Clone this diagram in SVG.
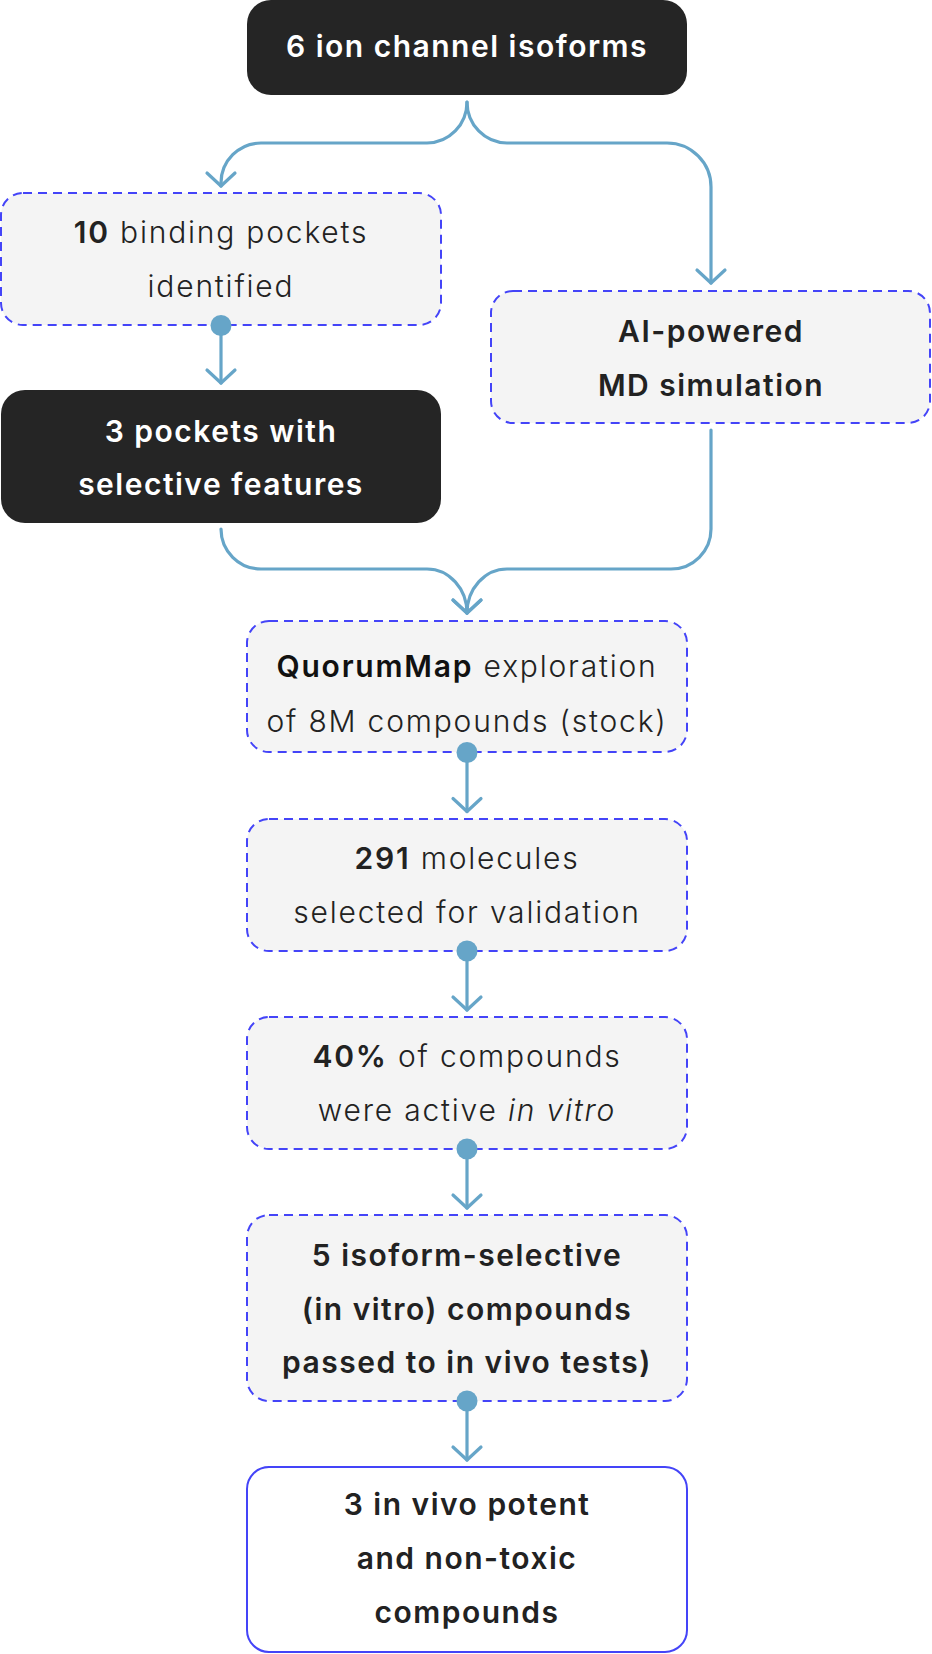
<svg xmlns="http://www.w3.org/2000/svg" width="932" height="1654" viewBox="0 0 932 1654">
<style>
.dark{fill:#252525}
.light{fill:#f4f4f4;stroke:#4444f8;stroke-width:2;stroke-dasharray:9 6}
.final{fill:#ffffff;stroke:#4444f8;stroke-width:2}
text{font-family:Inter,"Noto Sans","Liberation Sans",sans-serif;font-size:30px;letter-spacing:1.8px;text-anchor:middle}
.w{fill:#ffffff;font-weight:600;letter-spacing:1.5px}
.t{fill:#222222;font-weight:300}
.m{fill:#222222;font-weight:600;letter-spacing:1.5px}
.b{font-weight:600}
.i{font-style:italic}
.conn{fill:none;stroke:#66a5c8;stroke-width:3.2;stroke-linecap:round;stroke-linejoin:round}
</style>
<defs>
<marker id="arr" markerUnits="userSpaceOnUse" viewBox="-16 -16 20 32" refX="0" refY="0" markerWidth="20" markerHeight="32" orient="auto" overflow="visible">
<path d="M-13,-14 L0,0 L-13,14" fill="none" stroke="#66a5c8" stroke-width="3.2" stroke-linecap="round" stroke-linejoin="round"/>
</marker>
<marker id="dot" markerUnits="userSpaceOnUse" viewBox="-11 -11 22 22" refX="0" refY="0" markerWidth="22" markerHeight="22" overflow="visible">
<circle r="10.5" fill="#66a5c8"/>
</marker>
</defs>
<g id="n0">
<rect class="dark" x="247" y="0" width="440" height="95" rx="24"/>
<text class="w" x="467" y="57">6 ion channel isoforms</text>
</g>
<g id="n1">
<rect class="light" x="1" y="193" width="440" height="132" rx="22"/>
<text class="t" x="221" y="243"><tspan class="b">10</tspan> binding pockets</text>
<text class="t" x="221" y="297">identified</text>
</g>
<g id="n2">
<rect class="dark" x="1" y="390" width="440" height="133" rx="24"/>
<text class="w" x="221" y="442">3 pockets with</text>
<text class="w" x="221" y="495">selective features</text>
</g>
<g id="n3">
<rect class="light" x="491" y="291" width="439" height="132" rx="22"/>
<text class="m" x="711" y="342">AI-powered</text>
<text class="m" x="711" y="396">MD simulation</text>
</g>
<g id="n4">
<rect class="light" x="247" y="621" width="440" height="131" rx="22"/>
<text class="t" x="467" y="677"><tspan class="b" fill="#111111">QuorumMap</tspan> exploration</text>
<text class="t" x="467" y="732">of 8M compounds (stock)</text>
</g>
<g id="n5">
<rect class="light" x="247" y="819" width="440" height="132" rx="22"/>
<text class="t" x="467" y="869"><tspan class="b">291</tspan> molecules</text>
<text class="t" x="467" y="923">selected for validation</text>
</g>
<g id="n6">
<rect class="light" x="247" y="1017" width="440" height="132" rx="22"/>
<text class="t" x="467" y="1067"><tspan class="b">40%</tspan> of compounds</text>
<text class="t" x="467" y="1121">were active <tspan class="i">in vitro</tspan></text>
</g>
<g id="n7">
<rect class="light" x="247" y="1215" width="440" height="186" rx="22"/>
<text class="m" x="467" y="1266">5 isoform-selective</text>
<text class="m" x="467" y="1320">(in vitro) compounds</text>
<text class="m" x="467" y="1373">passed to in vivo tests)</text>
</g>
<g id="n8">
<rect class="final" x="247" y="1467" width="440" height="185" rx="22"/>
<text class="m" x="467" y="1515">3 in vivo potent</text>
<text class="m" x="467" y="1569">and non-toxic</text>
<text class="m" x="467" y="1623">compounds</text>
</g>
<g id="connectors">
<path class="conn" marker-end="url(#arr)" d="M467,102 A40,41 0 0 1 427,143 L261,143 A40,40 0 0 0 221,183 L221,186"/>
<path class="conn" marker-end="url(#arr)" d="M467,102 A40,41 0 0 0 507,143 L667,143 A44,44 0 0 1 711,187 L711,283"/>
<path class="conn" marker-start="url(#dot)" marker-end="url(#arr)" d="M221,325.5 L221,383"/>
<path class="conn" marker-end="url(#arr)" d="M221,529 A40,40 0 0 0 261,569 L427,569 A40,44 0 0 1 467,613"/>
<path class="conn" marker-end="url(#arr)" d="M711,430 L711,529 A40,40 0 0 1 671,569 L507,569 A40,44 0 0 0 467,613"/>
<path class="conn" marker-start="url(#dot)" marker-end="url(#arr)" d="M467,752.5 L467,811.5"/>
<path class="conn" marker-start="url(#dot)" marker-end="url(#arr)" d="M467,951 L467,1010"/>
<path class="conn" marker-start="url(#dot)" marker-end="url(#arr)" d="M467,1149 L467,1208"/>
<path class="conn" marker-start="url(#dot)" marker-end="url(#arr)" d="M467,1401 L467,1460"/>
</g>
</svg>
